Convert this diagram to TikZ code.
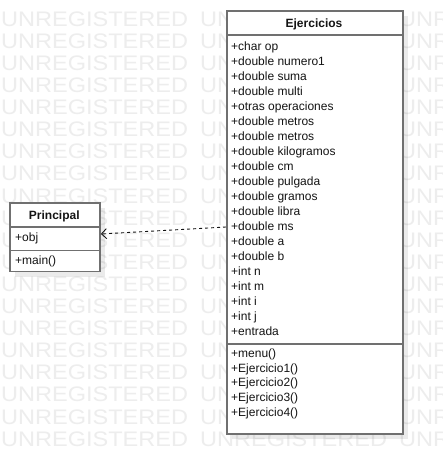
\documentclass[tikz,border=0pt]{standalone}
\usepackage{fontspec}
\setmainfont{Liberation Sans}
\usepackage{graphicx}
\usetikzlibrary{arrows.meta}
\definecolor{wm}{RGB}{237,237,237}
\definecolor{bord}{RGB}{112,112,112}
\definecolor{txt}{RGB}{20,20,20}
\tikzset{
  comp/.style={draw=bord, line width=1.6pt, fill=white, rectangle, inner sep=0pt, anchor=north west},
  shadowbox/.style={fill=black, opacity=0.08, draw=none},
  lbl/.style={anchor=base west, inner sep=0pt, text=txt, font=\fontsize{12}{15}\selectfont},
  ttl/.style={anchor=base, inner sep=0pt, text=txt, font=\fontsize{12}{15}\selectfont\bfseries},
  wmark/.style={anchor=west, inner sep=0pt, text=wm, font=\fontsize{21}{21}\selectfont},
  depend/.style={draw=txt, line width=0.9pt, dash pattern=on 3pt off 3pt, -{Straight Barb[length=5pt,width=10pt]}}
}
\begin{document}
\begin{tikzpicture}[x=1pt, y=-1pt]
\useasboundingbox (0,0) rectangle (442,473);
\fill[white] (0,0) rectangle (442,473);
% watermark
\foreach \r in {0,...,19}{
  \foreach \c in {0,1,2}{
    \node[wmark] (wm-\r-\c) at ({1+199*\c},{19+22.1*\r}) {\scalebox{1.12}[1]{UNREGISTERED}};
  }
}
% shadows
\fill[shadowbox] (232,16) rectangle (408,439);
\fill[shadowbox] (15.3,208) rectangle (105.3,276.7);
% Ejercicios class
\node[comp, minimum width=176pt, minimum height=24pt] (eh) at (226,10) {};
\node[comp, minimum width=176pt, minimum height=309pt] (ea) at (226,34) {};
\node[comp, minimum width=176pt, minimum height=90pt] (em) at (226,343) {};
\node[ttl] (et) at (314,27.5) {Ejercicios};
\foreach \t [count=\i from 0] in {+char op,+double numero1,+double suma,+double multi,+otras operaciones,+double metros,+double metros,+double kilogramos,+double cm,+double pulgada,+double gramos,+double libra,+double ms,+double a,+double b,+int n,+int m,+int i,+int j,+entrada}{
  \node[lbl] (eattr\i) at (231,{50.5+15*\i}) {\t};
}
\foreach \t [count=\i from 0] in {+menu(),+Ejercicio1(),+Ejercicio2(),+Ejercicio3(),+Ejercicio4()}{
  \node[lbl] (emeth\i) at (231,{357.5+14.7*\i}) {\t};
}
% Principal class
\node[comp, minimum width=90pt, minimum height=24.3pt] (ph) at (9.3,202) {};
\node[comp, minimum width=90pt, minimum height=23.4pt] (pa) at (9.3,226.3) {};
\node[comp, minimum width=90pt, minimum height=21pt] (pm) at (9.3,249.7) {};
\node[ttl] (pt) at (54.3,219) {Principal};
\node[lbl] (pattr) at (15,241.5) {+obj};
\node[lbl] (pmeth) at (15,264.5) {+main()};
% dependency
\draw[depend] (ea.203.6) -- (pa.6.3);
\end{tikzpicture}
\end{document}
